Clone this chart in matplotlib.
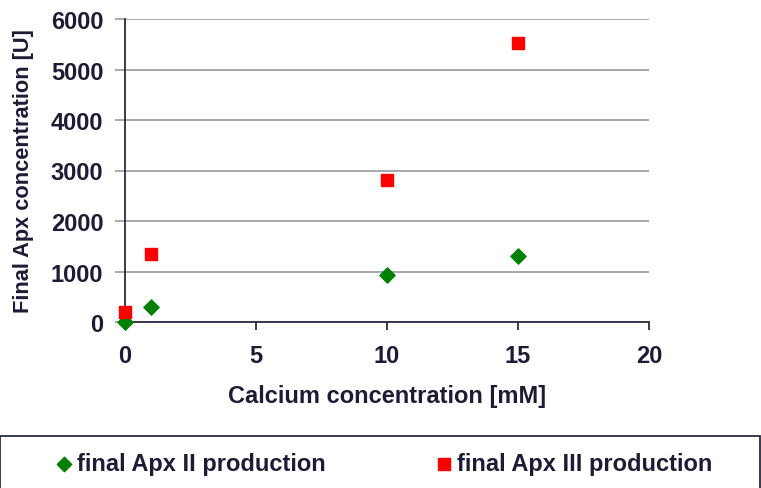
import matplotlib
matplotlib.use("Agg")
import matplotlib.pyplot as plt
from matplotlib.patches import Rectangle

calcium_mM = [0, 1, 10, 15]
apx2 = [0, 290, 940, 1310]
apx3 = [190, 1350, 2810, 5520]
series_labels = ["final Apx II production", "final Apx III production"]
xticks = [0, 5, 10, 15, 20]
yticks = [0, 1000, 2000, 3000, 4000, 5000, 6000]

TXT = "#1c1c36"
plt.rcParams['font.family'] = ['Liberation Sans', 'DejaVu Sans']
plt.rcParams['font.weight'] = 'bold'

fig = plt.figure(figsize=(7.61, 4.89), dpi=100)
ax = fig.add_axes([125/761, 1-323/489, (649-125)/761, (323-20)/489])

ax.scatter(calcium_mM, apx2, marker='D', s=60, color='#008000', label=series_labels[0], zorder=3, clip_on=False)
ax.scatter(calcium_mM, apx3, marker='s', s=78, color='#ff0000', label=series_labels[1], zorder=3, clip_on=False)

ax.set_xlim(0, 20)
ax.set_ylim(0, 6000)
ax.set_xticks(xticks)
ax.set_yticks(yticks)
ax.grid(axis='y', color='#a0a0a0', linewidth=1.3)
ax.set_axisbelow(True)
for s in ['top', 'right']:
    ax.spines[s].set_visible(False)
for s in ['left', 'bottom']:
    ax.spines[s].set_color('#2a2a45')
    ax.spines[s].set_linewidth(1.3)
ax.tick_params(axis='x', direction='out', length=6, color='#2a2a45', width=1.3, pad=10,
               labelsize=17, labelcolor=TXT)
ax.tick_params(axis='y', direction='out', length=7, color='#a0a0a0', width=1.3, pad=8.5,
               labelsize=17, labelcolor=TXT)
for lab in ax.get_xticklabels() + ax.get_yticklabels():
    lab.set_fontweight('bold')

ax.set_xlabel("Calcium concentration [mM]", fontsize=17, fontweight='bold', color=TXT)
ax.xaxis.set_label_coords(0.5, -(385-323)/(323-20))
ax.set_ylabel("Final Apx concentration [U]", fontsize=15.7, fontweight='bold', color=TXT)
ax.yaxis.set_label_coords(-(125-34)/(649-125), 0.5)

fig.patches.append(Rectangle((0.0, -0.05), 0.999, 1-437/489+0.05, transform=fig.transFigure,
                             facecolor='white', edgecolor='#2a2a45', linewidth=1.3))
leg = fig.legend(loc='center left', bbox_to_anchor=(57/761, 1-465/489), ncol=2, frameon=False,
                 columnspacing=4.7, handletextpad=0.25, handlelength=0.6, borderaxespad=0, borderpad=0,
                 markerscale=0.95,
                 prop={'family': ['Liberation Sans', 'DejaVu Sans'], 'weight': 'bold', 'size': 17})
for t in leg.get_texts():
    t.set_color(TXT)

fig.savefig("out.png", dpi=100)
